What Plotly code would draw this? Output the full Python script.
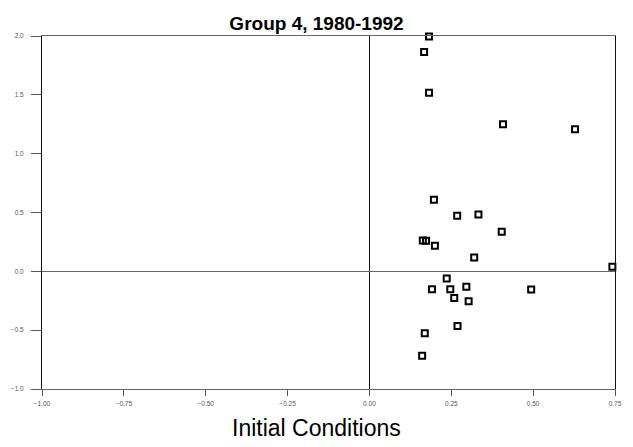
import plotly.graph_objects as go

# Data
x_initial = [0.182, 0.167, 0.182, 0.408, 0.628, 0.197, 0.268, 0.333, 0.404,
             0.163, 0.173, 0.200, 0.320, 0.236, 0.191, 0.247, 0.296, 0.259,
             0.303, 0.269, 0.169, 0.161, 0.742, 0.494]
y_values = [1.995, 1.864, 1.517, 1.250, 1.208, 0.609, 0.473, 0.484, 0.336,
            0.262, 0.260, 0.217, 0.118, -0.060, -0.152, -0.152, -0.132, -0.226,
            -0.255, -0.464, -0.527, -0.717, 0.038, -0.155]

x_ticks = [-1.00, -0.75, -0.50, -0.25, 0.00, 0.25, 0.50, 0.75]
y_ticks = [-1.0, -0.5, 0.0, 0.5, 1.0, 1.5, 2.0]

FONT = "Arial, Liberation Sans, sans-serif"

# The page body adds an 8px margin, so the figure is sized to fill the rest.
W, H = 625, 439
L, R, T, B = 34, 18, 28, 58
plot_w, plot_h = W - L - R, H - T - B

fig = go.Figure()
fig.add_trace(go.Scatter(
    x=x_initial, y=y_values, mode="markers", cliponaxis=False,
    marker=dict(symbol="square-open", size=6, color="black",
                line=dict(color="black", width=2)),
    showlegend=False,
))

fig.update_layout(
    width=W, height=H,
    margin=dict(l=L, r=R, t=T, b=B, autoexpand=False),
    paper_bgcolor="white", plot_bgcolor="white",
    font=dict(family=FONT, color="#444"),
    title=dict(text="<b>Group 4, 1980-1992</b>", x=308.5 / W, xref="container",
               xanchor="center", y=1 - 15 / H, yanchor="middle",
               font=dict(family=FONT, size=19, color="black")),
    xaxis=dict(range=[-1, 0.75], tickvals=x_ticks, tickformat=".2f",
               ticks="outside", ticklen=6, tickcolor="#555", tickwidth=1,
               showline=True, linecolor="#666", linewidth=1, mirror=True,
               showgrid=False, zeroline=True, zerolinecolor="#111",
               zerolinewidth=1, tickfont=dict(size=6.5, color="#555"),
               ticklabelstandoff=2, automargin=False),
    yaxis=dict(range=[-1, 2], tickvals=y_ticks, tickformat=".1f",
               ticks="outside", ticklen=10, tickcolor="#555", tickwidth=1,
               showline=True, linecolor="#111", linewidth=1, mirror=True,
               showgrid=False, zeroline=True, zerolinecolor="#666",
               zerolinewidth=1, tickfont=dict(size=6.5, color="#555"),
               ticklabelstandoff=6, automargin=False),
    annotations=[dict(text="Initial Conditions", xref="paper", yref="paper",
                      x=(308.5 - L) / plot_w, y=(H - B - 420) / plot_h,
                      xanchor="center", yanchor="middle", showarrow=False,
                      font=dict(family=FONT, size=23, color="black"))],
)

fig.write_html("out.html")
